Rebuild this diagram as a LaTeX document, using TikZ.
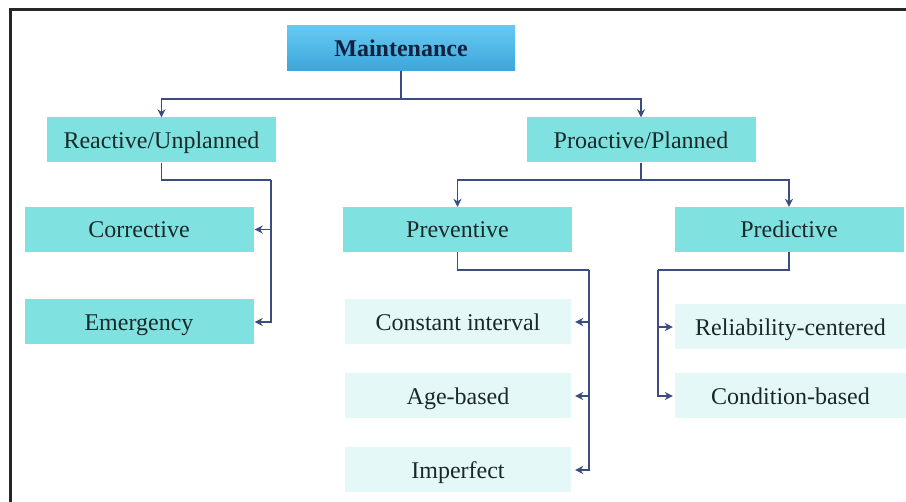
\documentclass[tikz,border=0pt]{standalone}
\usepackage{fontspec}
\setmainfont{Liberation Serif}
\usetikzlibrary{arrows.meta}
\definecolor{rootTop}{HTML}{66C9F0}
\definecolor{rootBot}{HTML}{3CA6DB}
\definecolor{midFill}{HTML}{80E2E0}
\definecolor{leafFill}{HTML}{E5F8F8}
\definecolor{lineCol}{HTML}{3B4C7E}
\definecolor{txtCol}{HTML}{1A2829}
\definecolor{rootTxt}{HTML}{14203F}
\tikzset{
  box/.style={minimum width=229pt, minimum height=45pt, inner sep=0pt,
    text height=18pt, text depth=1pt,
    font=\fontsize{24}{26}\selectfont, text=txtCol},
  rootbox/.style={box, top color=rootTop, bottom color=rootBot,
    minimum width=228pt, text=rootTxt, font=\fontsize{24}{26}\selectfont\bfseries},
  midbox/.style={box, fill=midFill},
  leafbox/.style={box, fill=leafFill},
  conn/.style={draw=lineCol, line width=1.6pt},
  arr/.style={conn, -{Stealth[length=8pt,width=8pt]}},
}
\begin{document}
\begin{tikzpicture}[x=1pt,y=-1pt]
\useasboundingbox (0,0) rectangle (906,502);
\fill[white] (0,0) rectangle (906,502);
% outer frame
\draw[black!85, line width=3pt] (10,510) -- (10,10) -- (915,10);

% boxes
\node[rootbox] (maint) at (401,48.5) {Maintenance};
\node[midbox] (react) at (161.5,140) {Reactive/Unplanned};
\node[midbox] (proact) at (641,140) {Proactive/Planned};
\node[midbox] (corr) at (139,229.5) {Corrective};
\node[midbox] (emer) at (139,322) {Emergency};
\node[midbox] (prev) at (457.5,229.5) {Preventive};
\node[midbox] (pred) at (789,229.5) {Predictive};
\node[leafbox, minimum width=226pt] (ci) at (458,322) {Constant interval};
\node[leafbox, minimum width=226pt] (ab) at (458,396) {Age-based};
\node[leafbox, minimum width=226pt] (imp) at (458,470) {Imperfect};
\node[leafbox, minimum width=231pt] (rc) at (790.5,327) {Reliability-centered};
\node[leafbox, minimum width=231pt] (cb) at (790.5,396) {Condition-based};

% junction points
\coordinate (mj) at (401,99);
\coordinate (rj) at (271,180);
\coordinate (pj) at (641,180);
\coordinate (vj) at (589,270);
\coordinate (dj) at (658,270);

% connectors
\draw[conn] (maint.south) -- (mj);
\draw[arr] (mj) -| (react.north);
\draw[arr] (mj) -| (proact.north);

\draw[conn] (react.south) |- (rj);
\draw[arr, shorten >=1pt] (rj) |- (corr.east);
\draw[arr, shorten >=1pt] (rj) |- (emer.east);

\draw[conn] (proact.south) -- (pj);
\draw[arr] (pj) -| (prev.north);
\draw[arr] (pj) -| (pred.north);

\draw[conn] (prev.south) |- (vj);
\draw[arr, shorten >=4pt] (vj) |- (ci.east);
\draw[arr, shorten >=4pt] (vj) |- (ab.east);
\draw[arr, shorten >=4pt] (vj) |- (imp.east);

\draw[conn] (pred.south) |- (dj);
\draw[arr, shorten >=2pt] (dj) |- (rc.west);
\draw[arr, shorten >=2pt] (dj) |- (cb.west);
\end{tikzpicture}
\end{document}
